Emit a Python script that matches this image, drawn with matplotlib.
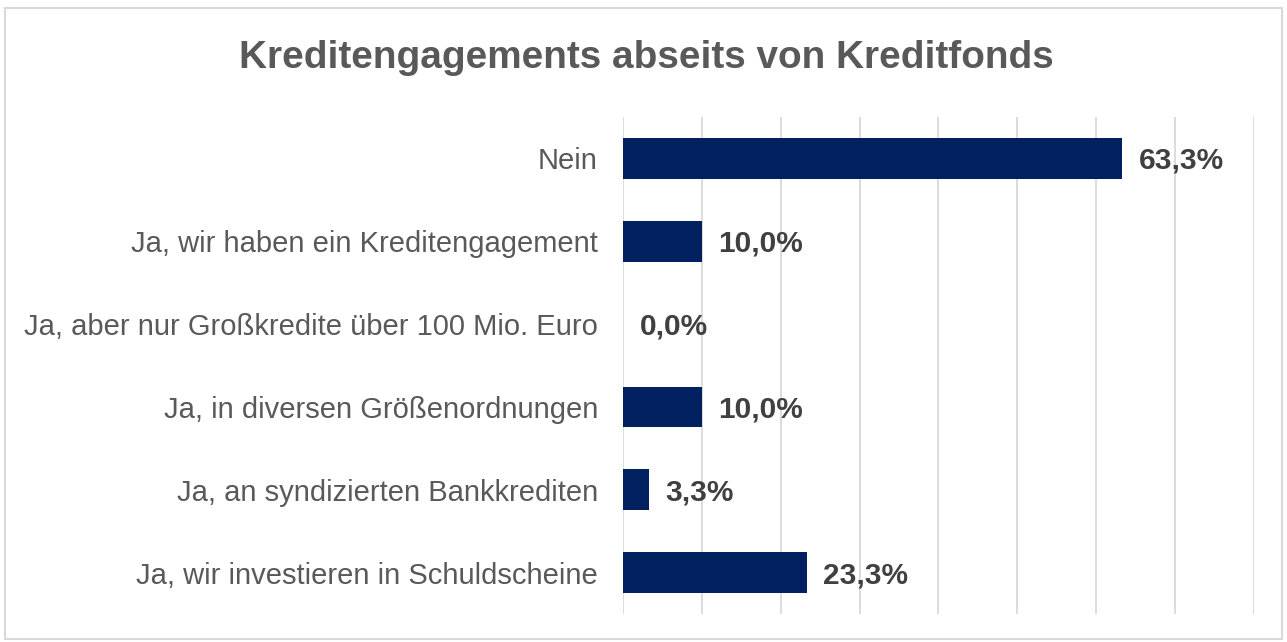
import matplotlib
matplotlib.use("Agg")
import matplotlib.pyplot as plt
from matplotlib.patches import Rectangle

plt.rcParams["font.family"] = ["Liberation Sans", "DejaVu Sans"]

TITLE = "Kreditengagements abseits von Kreditfonds"
CATEGORIES = [
    "Nein",
    "Ja, wir haben ein Kreditengagement",
    "Ja, aber nur Großkredite über 100 Mio. Euro",
    "Ja, in diversen Größenordnungen",
    "Ja, an syndizierten Bankkrediten",
    "Ja, wir investieren in Schuldscheine",
]
SHARES = [63.3, 10.0, 0.0, 10.0, 3.3, 23.3]

BAR = "#002060"
TEXT = "#595959"
LABEL = "#404040"
GRID = "#d9d9d9"

fig = plt.figure(figsize=(12.87, 6.42), dpi=100)
ax = fig.add_axes([0.484, 0.0436, 0.4903, 0.7742])

ypos = list(range(len(CATEGORIES)))
ax.barh(ypos, SHARES, height=0.49, color=BAR, zorder=3)
for y, v in zip(ypos, SHARES):
    ax.text(v + 2.1, y + 0.03, f"{v:.1f}%".replace(".", ","), va="center", ha="left",
            fontsize=21.5, fontweight="bold", color=LABEL, zorder=4)

ax.set_xlim(0, 80)
ax.set_ylim(len(CATEGORIES) - 0.5, -0.5)
ax.set_xticks(range(0, 81, 10))
ax.set_xticklabels([])
ax.tick_params(axis="x", length=0)
ax.set_yticks(ypos)
ax.set_yticklabels(CATEGORIES, fontsize=21, color=TEXT)
ax.tick_params(axis="y", length=0, pad=18)
ax.grid(axis="x", color=GRID, lw=1.3, zorder=0)
for s in ax.spines.values():
    s.set_visible(False)

fig.text(0.502, 0.91, TITLE, ha="center", va="center", fontsize=27.9,
         fontweight="bold", color=TEXT)

# chart area frame
fig.add_artist(Rectangle((0.004, 0.004), 0.992, 0.984, transform=fig.transFigure,
                         fill=False, edgecolor="#d9d9d9", lw=1.5))

fig.savefig("out.png", dpi=100, facecolor="white")
